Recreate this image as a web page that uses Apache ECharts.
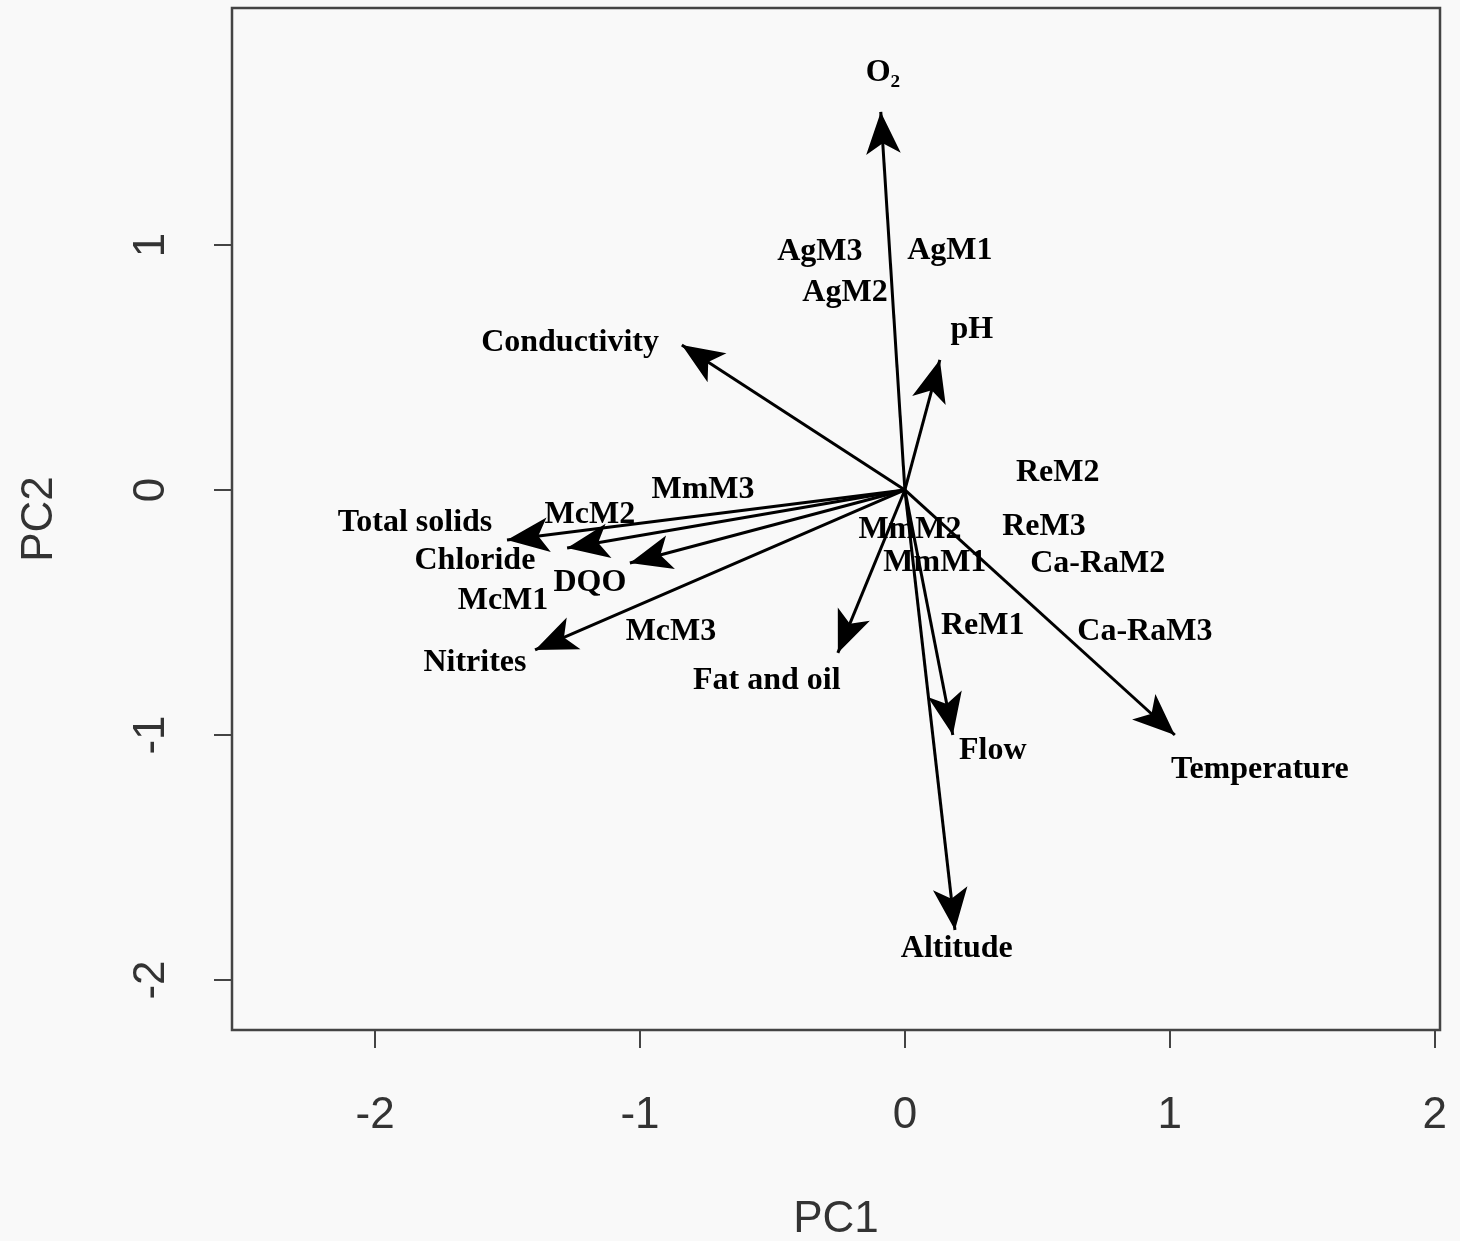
<!DOCTYPE html>
<html>
<head>
<meta charset="utf-8">
<script src="https://cdn.jsdelivr.net/npm/echarts@6/dist/echarts.min.js"></script>
<style>
html,body{margin:0;padding:0;background:#f9f9f9;}
#chart{width:1460px;height:1241px;}
</style>
</head>
<body>
<div id="chart"></div>
<script>
// Axis ticks
const xTicks = [-2, -1, 0, 1, 2];
const yTicks = [-2, -1, 0, 1];

// Variable loadings (arrow tips)
const varNames = ['O₂', 'pH', 'Conductivity', 'Total solids', 'Chloride', 'DQO', 'Nitrites', 'Fat and oil', 'Flow', 'Temperature', 'Altitude'];
const varX = [-0.091, 0.132, -0.842, -1.502, -1.275, -1.038, -1.396, -0.253, 0.181, 1.019, 0.189];
const varY = [1.543, 0.531, 0.592, -0.204, -0.237, -0.298, -0.653, -0.665, -1.000, -1.000, -1.796];
// Variable label positions
const varLabelX = [-0.083, 0.253, -1.264, -1.849, -1.623, -1.189, -1.623, -0.521, 0.332, 1.340, 0.196];
const varLabelY = [1.702, 0.653, 0.600, -0.134, -0.290, -0.379, -0.706, -0.779, -1.065, -1.143, -1.873];

// Observation scores
const obsNames = ['AgM3', 'AgM1', 'AgM2', 'MmM3', 'McM2', 'McM1', 'McM3', 'MmM2', 'MmM1', 'ReM2', 'ReM3', 'Ca-RaM2', 'ReM1', 'Ca-RaM3'];
const obsX = [-0.321, 0.170, -0.226, -0.762, -1.189, -1.517, -0.883, 0.019, 0.113, 0.577, 0.525, 0.728, 0.294, 0.906];
const obsY = [0.972, 0.976, 0.804, 0.000, -0.102, -0.453, -0.579, -0.163, -0.298, 0.070, -0.151, -0.302, -0.555, -0.579];

const chart = echarts.init(document.getElementById('chart'));
const labelFont = {fontFamily: 'Liberation Serif', fontWeight: 'bold', fontSize: 32, color: '#000', textBorderWidth: 0, opacity: 1};

chart.setOption({
  backgroundColor: '#f9f9f9',
  animation: false,
  grid: {left: 232, right: 20, top: 8, bottom: 211, show: true, borderColor: '#444', borderWidth: 2.5, backgroundColor: 'transparent', outerBoundsMode: 'none', containLabel: false},
  xAxis: {
    type: 'value', min: -2.54, max: 2.02,
    splitLine: {show: false},
    axisLine: {show: false, onZero: false},
    axisTick: {show: true, length: 18, inside: false, lineStyle: {color: '#444', width: 2}, customValues: xTicks},
    axisLabel: {show: true, margin: 64, fontFamily: 'Liberation Sans', fontSize: 44, color: '#333', customValues: xTicks, formatter: v => String(v)},
    name: 'PC1', nameLocation: 'middle', nameGap: 168,
    nameTextStyle: {fontFamily: 'Liberation Sans', fontSize: 44, color: '#333', verticalAlign: 'top'}
  },
  yAxis: {
    type: 'value', min: -2.204, max: 1.967,
    splitLine: {show: false},
    axisLine: {show: false, onZero: false},
    axisTick: {show: true, length: 18, inside: false, lineStyle: {color: '#444', width: 2}, customValues: yTicks},
    axisLabel: {show: true, rotate: 90, margin: 58, fontFamily: 'Liberation Sans', fontSize: 44, color: '#333', customValues: yTicks, formatter: v => String(v)},
    name: 'PC2', nameLocation: 'middle', nameGap: 170, nameRotate: 90,
    nameTextStyle: {fontFamily: 'Liberation Sans', fontSize: 44, color: '#333'}
  },
  series: [
    {
      type: 'lines',
      coordinateSystem: 'cartesian2d',
      symbol: ['none', 'arrow'],
      symbolSize: [[1, 1], [26, 42]],
      lineStyle: {color: '#000', width: 3, opacity: 1},
      data: varNames.map((n, i) => ({coords: [[0, 0], [varX[i], varY[i]]]})),
      silent: true
    },
    {
      type: 'scatter',
      symbolSize: 0,
      itemStyle: {opacity: 1},
      data: varNames.map((n, i) => ({name: n, value: [varLabelX[i], varLabelY[i]]})),
      label: Object.assign({show: true, position: 'inside', formatter: p => p.name}, labelFont),
      silent: true
    },
    {
      type: 'scatter',
      symbolSize: 0,
      itemStyle: {opacity: 1},
      data: obsNames.map((n, i) => ({name: n, value: [obsX[i], obsY[i]]})),
      label: Object.assign({show: true, position: 'inside', formatter: p => p.name}, labelFont),
      silent: true
    }
  ]
});
</script>
</body>
</html>
